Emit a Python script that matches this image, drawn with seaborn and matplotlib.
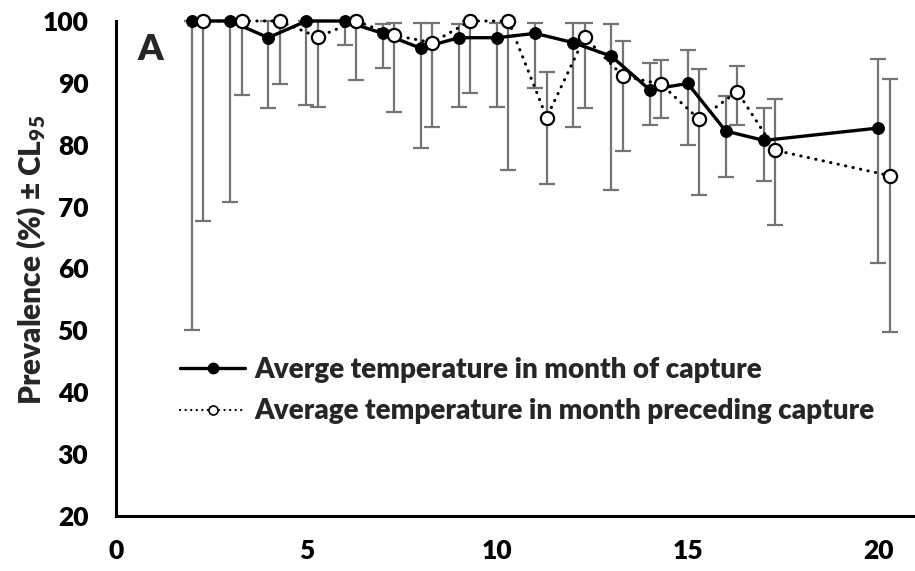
import matplotlib
matplotlib.use("Agg")
import matplotlib.pyplot as plt
from matplotlib.lines import Line2D
from matplotlib.ticker import MultipleLocator
from matplotlib.font_manager import FontProperties
import seaborn as sns
import pandas as pd

# ---- data ----
temp_now = [2, 3, 4, 5, 6, 7, 8, 9, 10, 11, 12, 13, 14, 15, 16, 17, 20]
prev_now = [100, 100, 97.3, 100, 100, 98.0, 95.6, 97.3, 97.3, 98.0, 96.5, 94.3, 88.9, 89.9, 82.2, 80.7, 82.7]
low_now = [50, 70.8, 85.9, 86.4, 96.1, 92.4, 79.5, 86.1, 86.1, 89.1, 82.8, 72.7, 83.2, 79.9, 74.8, 74.2, 60.9]
high_now = [100, 100, 100, 100, 100, 99.5, 99.7, 99.5, 99.7, 99.7, 99.7, 99.5, 93.2, 95.3, 87.9, 86.0, 93.8]

temp_prev = [2.3, 3.3, 4.3, 5.3, 6.3, 7.3, 8.3, 9.3, 10.3, 11.3, 12.3, 13.3, 14.3, 15.3, 16.3, 17.3, 20.3]
prev_prev = [100, 100, 100, 97.4, 100, 97.7, 96.5, 100, 100, 84.4, 97.4, 91.1, 89.8, 84.1, 88.6, 79.1, 75.0]
low_prev = [67.6, 88.0, 89.8, 86.1, 90.4, 85.3, 82.9, 88.3, 75.9, 73.6, 85.9, 79.0, 84.4, 71.8, 83.2, 67.0, 49.8]
high_prev = [100, 100, 100, 100, 100, 99.7, 99.7, 100, 100, 91.7, 99.7, 96.7, 93.7, 92.3, 92.8, 87.4, 90.7]

label_now = "Averge temperature in month of capture"
label_prev = "Average temperature in month preceding capture"
y_label = "Prevalence (%) ± CL$_{95}$"
panel = "A"

df_now = pd.DataFrame({"x": temp_now, "y": prev_now, "lo": low_now, "hi": high_now})
df_prev = pd.DataFrame({"x": temp_prev, "y": prev_prev, "lo": low_prev, "hi": high_prev})

W = "heavy"
sns.set_theme(style="white")
plt.rcParams["font.family"] = ["Lato", "DejaVu Sans"]
plt.rcParams["font.weight"] = W
plt.rcParams["mathtext.fontset"] = "custom"
plt.rcParams["mathtext.rm"] = "Lato:heavy"
plt.rcParams["mathtext.it"] = "Lato:heavy"
plt.rcParams["mathtext.bf"] = "Lato:heavy"
plt.rcParams["mathtext.default"] = "rm"

fig = plt.figure(figsize=(9.15, 5.71), dpi=100)
ax = fig.add_axes([115.7 / 915, 55 / 571, (915 - 115.7) / 915, 495 / 571])

grey = "#747474"
for d in (df_now, df_prev):
    eb = ax.errorbar(d["x"], d["y"], yerr=[d["y"] - d["lo"], d["hi"] - d["y"]],
                     fmt="none", ecolor=grey, elinewidth=1.6, capsize=6, capthick=1.6,
                     zorder=2, clip_on=False)
    for art in list(eb.lines[1]) + list(eb.lines[2]):
        art.set_clip_on(False)

sns.lineplot(data=df_prev, x="x", y="y", ax=ax, sort=False, errorbar=None,
             color="black", linewidth=2.2, linestyle=(0, (0.1, 2.4)),
             dash_capstyle="round", marker="o", markersize=9.5,
             markerfacecolor="white", markeredgecolor="black", markeredgewidth=1.6,
             zorder=4, clip_on=False, legend=False)
sns.lineplot(data=df_now, x="x", y="y", ax=ax, sort=False, errorbar=None,
             color="black", linewidth=2.4, marker="o", markersize=8.5,
             markerfacecolor="black", markeredgecolor="black",
             zorder=3, clip_on=False, legend=False)

ax.set_xlim(0, 20.96)
ax.set_ylim(20, 100)
ax.xaxis.set_major_locator(MultipleLocator(5))
ax.xaxis.set_minor_locator(MultipleLocator(1))
ax.yaxis.set_major_locator(MultipleLocator(10))
ax.yaxis.set_minor_locator(MultipleLocator(5))

for s in ("top", "right"):
    ax.spines[s].set_visible(False)
for s in ("left", "bottom"):
    ax.spines[s].set_linewidth(2.2)
    ax.spines[s].set_color("black")

ax.tick_params(which="major", direction="inout", length=11.5, width=2.2,
               labelsize=19, colors="black")
ax.tick_params(axis="y", which="major", pad=14)
ax.tick_params(axis="x", which="major", pad=11)
ax.tick_params(which="minor", direction="in", length=5.8, width=2.2, colors="black")
for lab in ax.get_xticklabels() + ax.get_yticklabels():
    lab.set_fontweight(W)

ax.set_xlabel("")
ax.set_ylabel(y_label, fontsize=21.5, fontweight=W)
ax.yaxis.set_label_coords(-(115.7 - 48) / 799.3, (516 - 260) / 495)

ax.text(150 / 915, 1 - 50 / 571, panel, transform=fig.transFigure,
        fontsize=26, fontweight=W, ha="center", va="center")

handles = [
    Line2D([], [], color="black", linewidth=2.4, marker="o", markersize=7.5,
           markerfacecolor="black", markeredgecolor="black"),
    Line2D([], [], color="black", linewidth=1.6, linestyle=(0, (0.1, 2.4)),
           dash_capstyle="round", marker="o", markersize=6.5,
           markerfacecolor="white", markeredgecolor="black", markeredgewidth=1.2),
]
fp = FontProperties(family=["Lato", "DejaVu Sans"], weight=W, size=20)
ax.legend(handles, [label_now, label_prev], loc="upper left",
          bbox_to_anchor=((180 - 115.7) / 799.3, (516 - 357) / 495),
          frameon=False, handlelength=2.35, handletextpad=0.33,
          labelspacing=0.55, borderaxespad=0, borderpad=0, prop=fp)

fig.savefig("out.png", dpi=100)
